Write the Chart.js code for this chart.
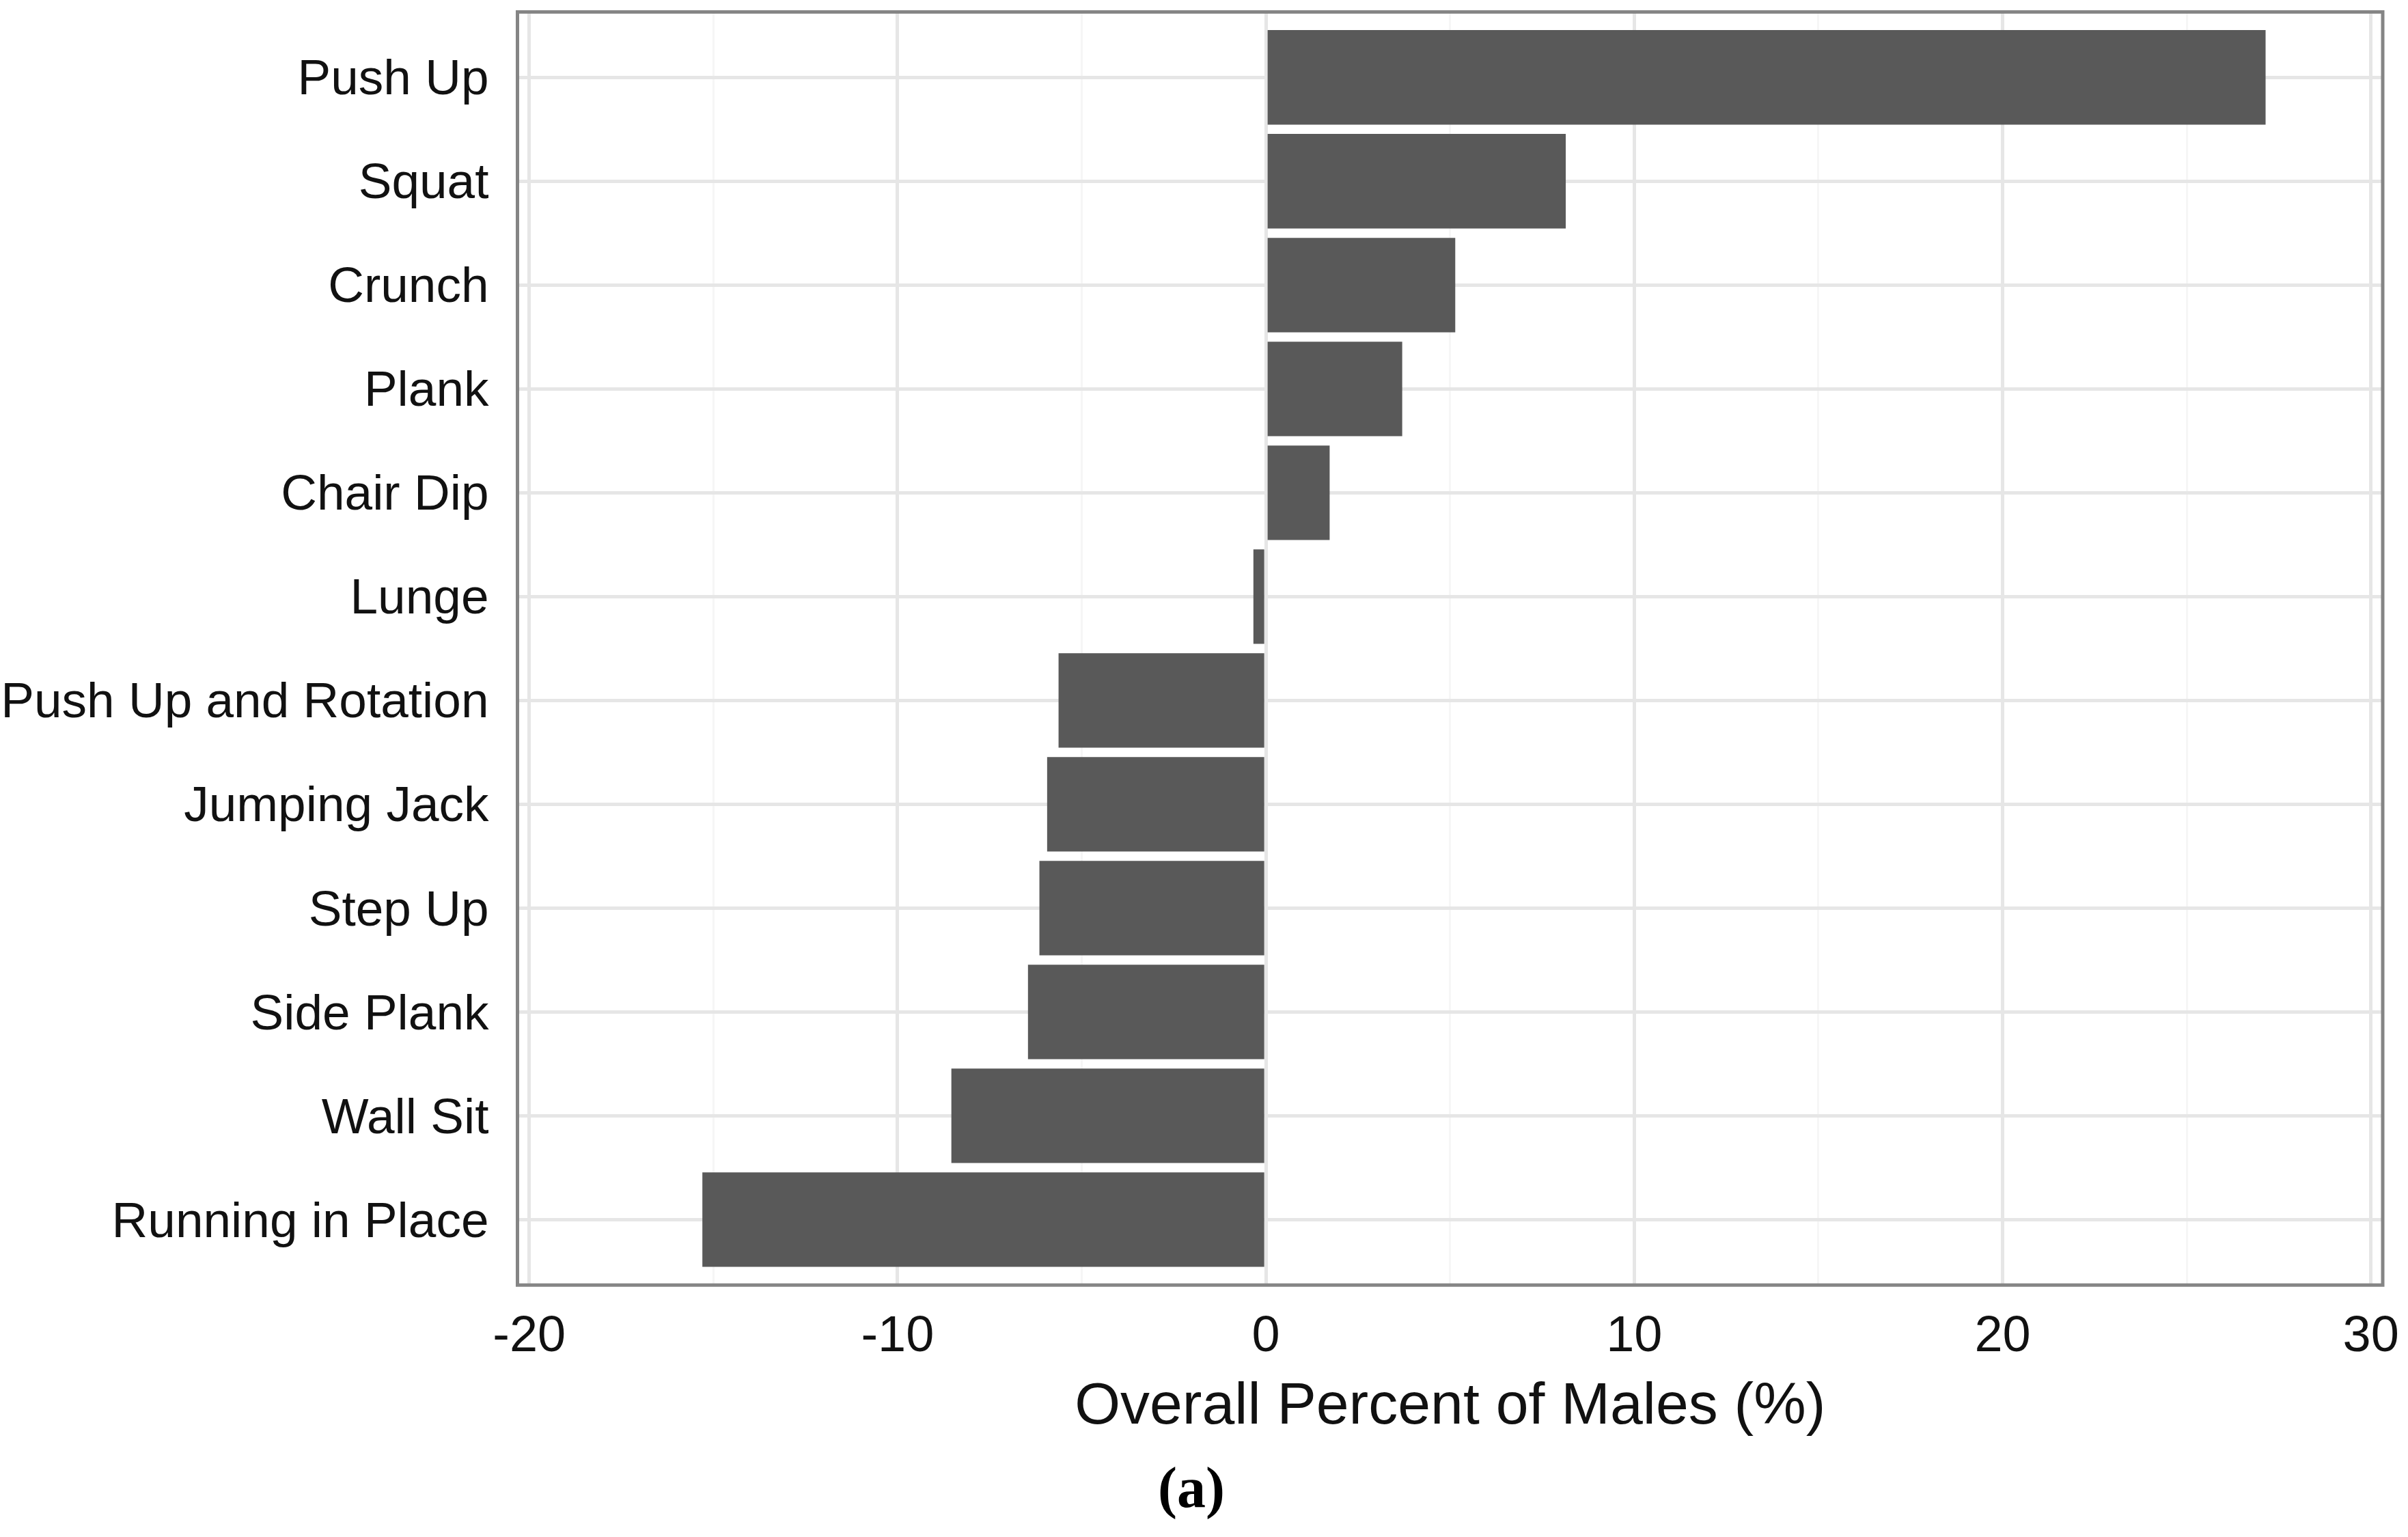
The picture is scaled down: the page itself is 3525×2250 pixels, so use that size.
<!DOCTYPE html>
<html>
<head>
<meta charset="utf-8">
<title>Overall Percent of Males</title>
<script src="https://cdn.jsdelivr.net/npm/chart.js@4.4.1/dist/chart.umd.min.js"></script>
<style>
    html, body { margin: 0; padding: 0; background: #ffffff; }
    canvas { display: block; }
</style>
</head>
<body>
<canvas id="malesChart" width="3525" height="2250"></canvas>
<script>
(() => {
    "use strict";

    // exercises, top to bottom
    const exercises = [
        "Push Up",
        "Squat",
        "Crunch",
        "Plank",
        "Chair Dip",
        "Lunge",
        "Push Up and Rotation",
        "Jumping Jack",
        "Step Up",
        "Side Plank",
        "Wall Sit",
        "Running in Place"
    ];

    // overall percent of males (%)
    const percentMales = [27.14, 8.14, 5.14, 3.7, 1.73, -0.34, -5.63, -5.94, -6.15, -6.46, -8.54, -15.3];

    // x axis: labelled every 10, minor grid every 5
    const xTickStep = 5;
    const xLabelStep = 10;

    const textColor = "#111111";
    const sansFont = "'Liberation Sans', Arial, sans-serif";

    const panelBorder = {
        id: "panelBorder",
        afterDraw(chart) {
            const { ctx, chartArea } = chart;
            ctx.save();
            ctx.strokeStyle = "#858585";
            ctx.lineWidth = 5;
            ctx.strokeRect(chartArea.left, chartArea.top, chartArea.right - chartArea.left, chartArea.bottom - chartArea.top);
            ctx.restore();
        }
    };

    const canvas = document.getElementById("malesChart");

    new Chart(canvas, {
        type: "bar",
        data: {
            datasets: [
                {
                    data: percentMales.map((value, index) => ({ x: value, y: index })),
                    backgroundColor: "#595959",
                    borderWidth: 0,
                    categoryPercentage: 1,
                    barPercentage: 0.91
                }
            ]
        },
        options: {
            indexAxis: "y",
            responsive: false,
            devicePixelRatio: 1,
            animation: false,
            layout: {
                padding: { left: 0, top: 17.5, right: 37, bottom: 0 }
            },
            plugins: {
                legend: { display: false },
                tooltip: { enabled: false },
                title: {
                    display: true,
                    position: "bottom",
                    text: "(a)",
                    color: "#000000",
                    font: { family: "'Liberation Serif', 'Times New Roman', serif", size: 84, weight: "bold" },
                    padding: { top: 22, bottom: 15 }
                }
            },
            scales: {
                x: {
                    type: "linear",
                    min: -20.32,
                    max: 30.32,
                    border: { display: false },
                    grid: {
                        drawTicks: false,
                        color: (context) => (context.tick && context.tick.value % xLabelStep === 0 ? "#e6e6e6" : "#f6f6f6"),
                        lineWidth: (context) => (context.tick && context.tick.value % xLabelStep === 0 ? 5 : 3)
                    },
                    ticks: {
                        stepSize: xTickStep,
                        includeBounds: false,
                        autoSkip: false,
                        maxRotation: 0,
                        padding: 32,
                        color: textColor,
                        font: { family: sansFont, size: 74 },
                        callback: (value) => (value % xLabelStep === 0 ? String(value) : "")
                    },
                    title: {
                        display: true,
                        text: "Overall Percent of Males (%)",
                        color: textColor,
                        font: { family: sansFont, size: 86 },
                        padding: { top: 0, bottom: 0 }
                    },
                    afterFit: (scale) => {
                        scale.height = 231;
                        scale.paddingLeft = 0;
                        scale.paddingRight = 0;
                    }
                },
                y: {
                    type: "linear",
                    reverse: true,
                    offset: false,
                    min: -0.63,
                    max: 11.63,
                    border: { display: false },
                    grid: {
                        offset: false,
                        drawTicks: false,
                        color: "#e6e6e6",
                        lineWidth: 5
                    },
                    ticks: {
                        stepSize: 1,
                        includeBounds: false,
                        autoSkip: false,
                        padding: 42,
                        labelOffset: 5,
                        color: textColor,
                        font: { family: sansFont, size: 73 },
                        callback: (value) => exercises[value] ?? ""
                    },
                    afterFit: (scale) => {
                        scale.width = 757.5;
                        scale.paddingTop = 0;
                        scale.paddingBottom = 0;
                    }
                }
            }
        },
        plugins: [panelBorder]
    });
})();
</script>
</body>
</html>
